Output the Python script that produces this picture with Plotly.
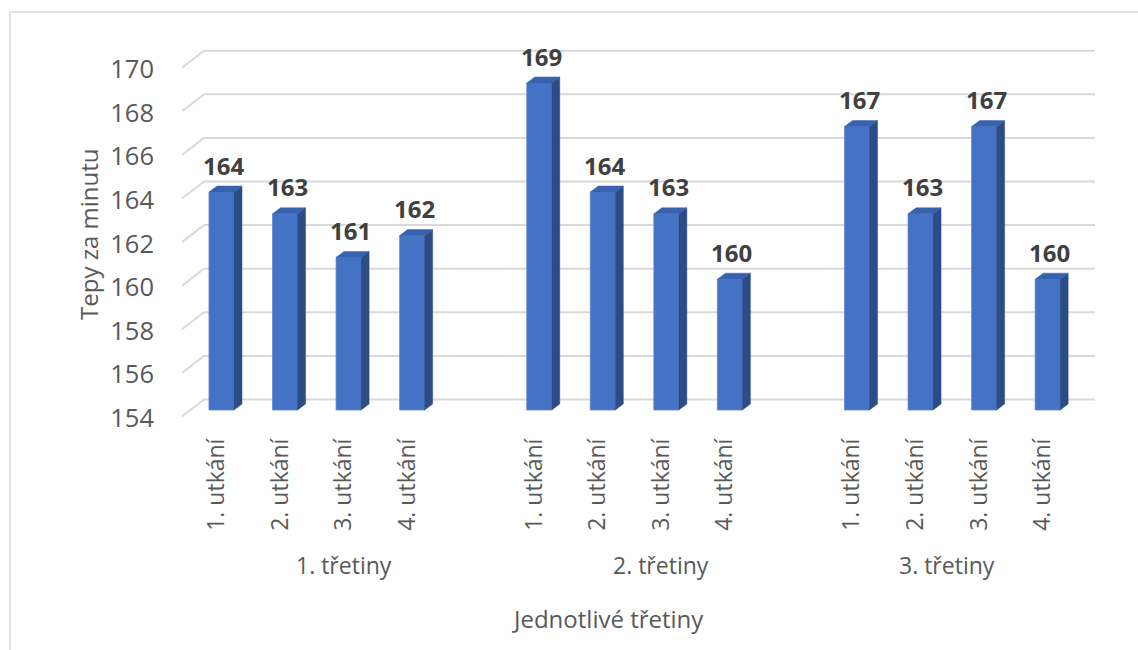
import plotly.graph_objects as go

# --- data -------------------------------------------------------------
groups = ["1. třetiny", "2. třetiny", "3. třetiny"]
matches = ["1. utkání", "2. utkání", "3. utkání", "4. utkání"]
values_1 = [164, 163, 161, 162]
values_2 = [169, 164, 163, 160]
values_3 = [167, 163, 167, 160]
series = [values_1, values_2, values_3]
y_ticks = [154, 156, 158, 160, 162, 164, 166, 168, 170]
y_base = 154

# --- geometry (pixels of the 1138x650 canvas) -------------------------
W, H = 1138, 650
PLOT_L, PLOT_R, PLOT_T, PLOT_B = 182, 1095, 40, 430
SLOT0_PX, SLOT_PX = 221.5, 63.55      # centre of first bar, slot pitch
BASE_PX, UNIT_PX = 410.0, 21.8        # pixel of y_base on bar fronts, px per unit
BAR_W_PX, DEPTH_X_PX, DEPTH_Y_PX = 25, 8, 6
WALL_X_PX = 204                       # back wall left edge
WALL_UP_PX, FLOOR_DOWN_PX = 10.5, 6.5 # back wall / floor front offsets from bar front

GROUP_STRIDE = len(matches) + 1       # one empty slot between groups


def px_to_x(px):
    return (px - SLOT0_PX) / SLOT_PX


def dpx_to_y(dpx):
    return dpx / UNIT_PX


def px_to_paper_x(px):
    return (px - PLOT_L) / (PLOT_R - PLOT_L)


def px_to_paper_y(py):
    return (PLOT_B - py) / (PLOT_B - PLOT_T)


x_range = [px_to_x(PLOT_L), px_to_x(PLOT_R)]
y_range = [y_base - dpx_to_y(PLOT_B - BASE_PX), y_base + dpx_to_y(BASE_PX - PLOT_T)]

bar_w = BAR_W_PX / SLOT_PX
dx = DEPTH_X_PX / SLOT_PX
dy = dpx_to_y(DEPTH_Y_PX)

FRONT = "#4472c4"
SIDE = "#2c4c86"
TOP = "#3762ad"
GRID = "#d9d9d9"
TXT = "#595959"
LBL = "#404040"
FONT = "Open Sans"

slots, vals, labels = [], [], []
for g, vs in enumerate(series):
    for m, v in enumerate(vs):
        slots.append(g * GROUP_STRIDE + m)
        vals.append(v)
        labels.append(matches[m])

fig = go.Figure()

# front faces
fig.add_trace(go.Bar(
    x=slots, y=[v - y_base for v in vals], base=y_base, width=bar_w,
    marker=dict(color=FRONT, line=dict(color="#5a86d0", width=0.8)),
    hoverinfo="skip", showlegend=False,
))

# side and top faces of the 3-D columns
sx, sy, tx, ty = [], [], [], []
for s, v in zip(slots, vals):
    xl, xr = s - bar_w / 2, s + bar_w / 2
    sx += [xr, xr + dx, xr + dx, xr, xr, None]
    sy += [y_base, y_base + dy, v + dy, v, y_base, None]
    tx += [xl, xl + dx, xr + dx, xr, xl, None]
    ty += [v, v + dy, v + dy, v, v, None]

fig.add_trace(go.Scatter(x=sx, y=sy, mode="lines", fill="toself", fillcolor=SIDE,
                         line=dict(color=SIDE, width=0.5), hoverinfo="skip",
                         showlegend=False))
fig.add_trace(go.Scatter(x=tx, y=ty, mode="lines", fill="toself", fillcolor=TOP,
                         line=dict(color=TOP, width=0.5), hoverinfo="skip",
                         showlegend=False))

# back-wall gridlines with their floor slant
shapes = []
for t in y_ticks:
    yb = t + dpx_to_y(WALL_UP_PX)
    yf = t - dpx_to_y(FLOOR_DOWN_PX)
    shapes.append(dict(type="line", xref="x", yref="y", layer="below",
                       x0=px_to_x(WALL_X_PX), x1=px_to_x(PLOT_R), y0=yb, y1=yb,
                       line=dict(color=GRID, width=2)))
    shapes.append(dict(type="line", xref="x", yref="y", layer="below",
                       x0=px_to_x(PLOT_L), x1=px_to_x(WALL_X_PX), y0=yf, y1=yb,
                       line=dict(color=GRID, width=2)))

# chart frame
shapes.append(dict(type="rect", xref="paper", yref="paper", layer="below",
                   x0=px_to_paper_x(10), x1=px_to_paper_x(W + 40),
                   y0=px_to_paper_y(H + 40), y1=px_to_paper_y(12),
                   line=dict(color=GRID, width=1.5)))

annotations = []
# value labels
for s, v in zip(slots, vals):
    annotations.append(dict(x=s + dx / 4, y=v, xref="x", yref="y", text=str(v),
                            showarrow=False, yanchor="middle", yshift=27,
                            font=dict(family=FONT, size=24, color=LBL, weight="bold")))

# group labels
for g, name in enumerate(groups):
    first = g * GROUP_STRIDE
    last = first + len(matches) - 1 + (1 if g < len(groups) - 1 else 0)
    annotations.append(dict(x=(first + last) / 2, y=px_to_paper_y(565), xref="x",
                            yref="paper", text=name, showarrow=False, xshift=-5,
                            yanchor="middle",
                            font=dict(family=FONT, size=23, color=TXT)))

# axis titles
annotations.append(dict(x=px_to_paper_x(608), y=px_to_paper_y(618), xref="paper",
                        yref="paper", text="Jednotlivé třetiny", showarrow=False,
                        yanchor="middle", xanchor="center",
                        font=dict(family=FONT, size=24, color=TXT)))
annotations.append(dict(x=px_to_paper_x(88), y=0.5, xref="paper", yref="paper",
                        text="Tepy za minutu", showarrow=False, textangle=-90,
                        xanchor="center", yanchor="middle",
                        font=dict(family=FONT, size=24, color=TXT)))

fig.update_layout(
    width=W, height=H,
    margin=dict(l=PLOT_L, r=W - PLOT_R, t=PLOT_T, b=H - PLOT_B, autoexpand=False),
    paper_bgcolor="white", plot_bgcolor="white",
    shapes=shapes, annotations=annotations,
    showlegend=False, hovermode=False,
    xaxis=dict(range=x_range, tickvals=slots, ticktext=labels, tickangle=-90,
               showgrid=False, zeroline=False, showline=False, ticks="",
               ticklabelstandoff=3, ticklabelshift=-5,
               tickfont=dict(family=FONT, size=23, color=TXT), fixedrange=True),
    yaxis=dict(range=y_range, tickvals=y_ticks, showgrid=False, zeroline=False,
               showline=False, ticks="", ticklabelstandoff=27, ticklabelshift=8,
               tickfont=dict(family=FONT, size=25.5, color=TXT), fixedrange=True),
)

fig.write_html("out.html", config={"displayModeBar": False})
